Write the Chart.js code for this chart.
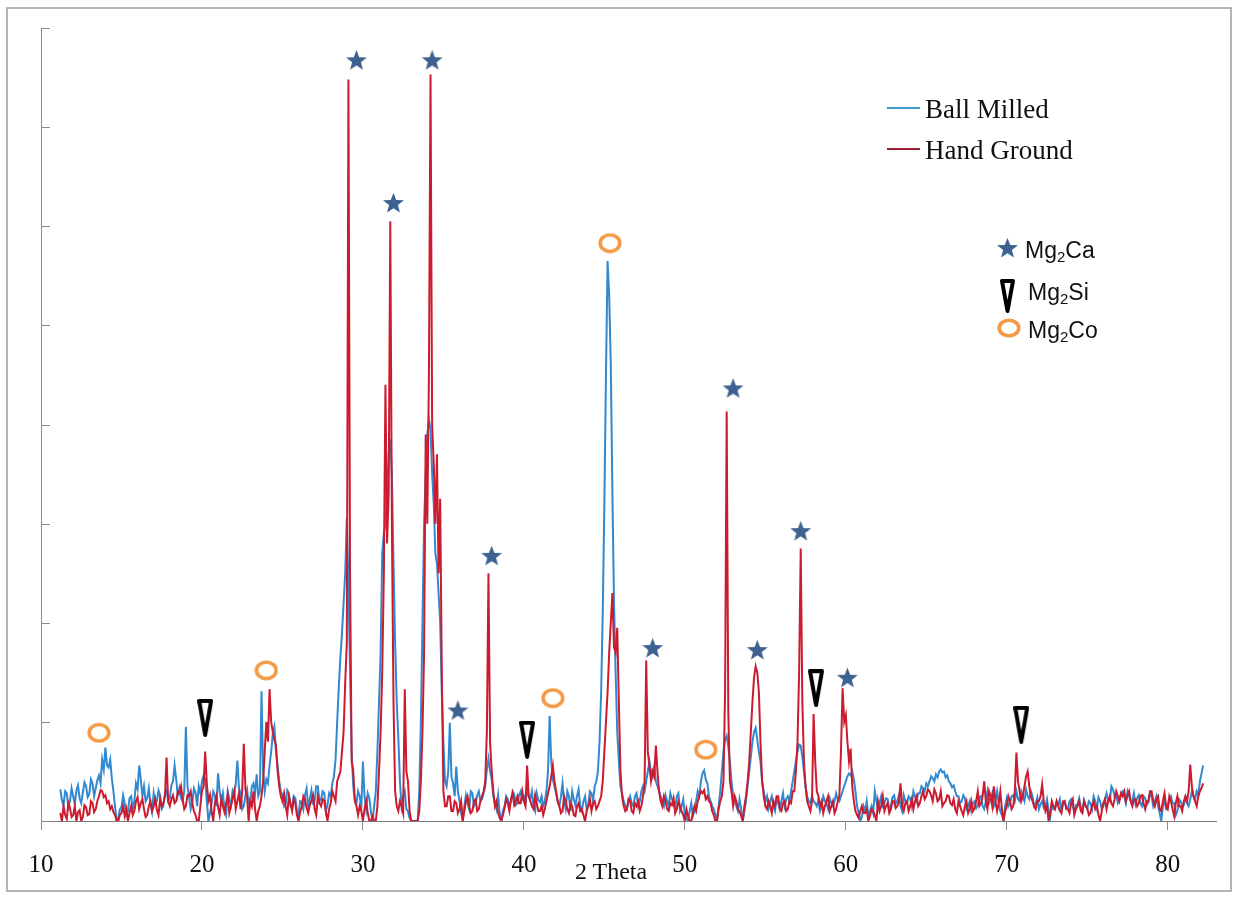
<!DOCTYPE html>
<html>
<head>
<meta charset="utf-8">
<title>XRD – Ball Milled vs Hand Ground</title>
<script src="https://cdn.jsdelivr.net/npm/chart.js@4.4.1/dist/chart.umd.min.js"></script>
<style>
  html, body { margin: 0; padding: 0; background: #fff; }
  #wrap { position: relative; width: 1238px; height: 897px; overflow: hidden; }
  #xrd { position: absolute; left: 0; top: 0; }
  #frame { position: absolute; left: 6px; top: 7px; width: 1222px; height: 881px;
           border: 2px solid #b5b5b5; pointer-events: none; }
  .serif { position: absolute; font-family: "Liberation Serif", "Times New Roman", serif;
           color: #111; line-height: 1; white-space: nowrap; }
  .sans  { position: absolute; font-family: "Liberation Sans", Arial, sans-serif;
           color: #111; line-height: 1; white-space: nowrap; font-size: 23px; }
  .sans sub { font-size: 15px; vertical-align: -4px; line-height: 0; }
  .swatch { position: absolute; width: 33px; height: 2px; }
  .sym { position: absolute; }
</style>
</head>
<body>
<div id="wrap">
  <canvas id="xrd" width="1238" height="897"></canvas>
  <div id="frame"></div>

  <div class="swatch" style="left:887px; top:107px; background:#3a9bc8;"></div>
  <div class="serif" style="left:925px; top:96px; font-size:27px;">Ball Milled</div>
  <div class="swatch" style="left:887px; top:148px; background:#a01c30;"></div>
  <div class="serif" style="left:925px; top:137px; font-size:27px;">Hand Ground</div>

  <div class="sym" id="symCa" style="left:996px; top:236px;"></div>
  <div class="sans" style="left:1025px; top:239px;">Mg<sub>2</sub>Ca</div>
  <div class="sym" id="symSi" style="left:1000px; top:279px;"></div>
  <div class="sans" style="left:1028px; top:281px;">Mg<sub>2</sub>Si</div>
  <div class="sym" id="symCo" style="left:997px; top:318px;"></div>
  <div class="sans" style="left:1028px; top:319px;">Mg<sub>2</sub>Co</div>

  <div class="serif" style="left:611px; top:859px; font-size:24px; transform:translateX(-50%);">2 Theta</div>
</div>

<script>
// scan grid: 2-theta from 11.2 in 0.1 degree steps, one row per degree
const startAngle = 11.2;
const stepAngle = 0.1;

const ballMilled = [
  320, 210, 160, 300, 280, 140, 200, 330, 250, 170,
  310, 360, 230, 180, 290, 390, 350, 240, 270, 420,
  380, 250, 330, 410, 460, 380, 620, 520, 740, 560,
  540, 620, 430, 300, 150, 0, 20, 120, 140, 260,
  180, 60, 100, 230, 250, 120, 200, 380, 320, 560,
  420, 250, 350, 200, 230, 330, 170, 90, 280, 180,
  200, 310, 260, 120, 150, 280, 310, 200, 230, 360,
  400, 560, 420, 260, 330, 230, 200, 300, 950, 350,
  240, 120, 180, 330, 290, 150, 350, 280, 400, 460,
  420, 200, 0, 80, 180, 300, 260, 150, 480, 300,
  200, 280, 120, 60, 300, 220, 160, 300, 250, 380,
  610, 330, 280, 120, 150, 260, 320, 170, 190, 350,
  380, 280, 470, 250, 300, 1310, 500, 300, 420, 380,
  560, 700, 880, 950, 700, 560, 400, 300, 260, 150,
  180, 310, 280, 150, 120, 250, 230, 100, 60, 200,
  190, 120, 260, 330, 140, 220, 310, 180, 200, 350,
  350, 200, 220, 300, 280, 100, 160, 280, 250, 380,
  450, 620, 1000, 1350, 1650, 1900, 2200, 2500, 3050, 2400,
  1500, 700, 350, 200, 180, 300, 250, 120, 600, 250,
  120, 280, 230, 90, 0, 150, 300, 700, 1200, 1700,
  2700, 2900, 3000, 3300, 3700, 3850, 3500, 2600, 1800, 1200,
  840, 400, 150, 250, 300, 120, 100, 30, 0, 0,
  0, 0, 0, 300, 1000, 2000, 3000, 3500, 3900, 4050,
  3950, 3500, 3200, 2700, 2600, 2300, 2000, 1300, 800, 400,
  350, 500, 990, 450, 380, 250, 550, 300, 200, 80,
  0, 150, 260, 180, 120, 300, 280, 150, 180, 260,
  300, 200, 220, 280, 350, 520, 630, 500, 420, 250,
  180, 120, 260, 80, 0, 100, 150, 250, 220, 150,
  200, 300, 270, 160, 180, 260, 300, 220, 250, 180,
  330, 250, 220, 300, 150, 100, 280, 210, 190, 250,
  150, 200, 300, 500, 1060, 600, 420, 350, 280, 200,
  150, 240, 380, 200, 120, 300, 250, 100, 300, 220,
  160, 250, 320, 150, 100, 200, 250, 120, 150, 300,
  280, 200, 350, 400, 500, 800, 1300, 2100, 3200, 4500,
  5650, 5300, 4600, 3300, 2200, 1500, 900, 600, 350, 280,
  200, 150, 120, 200, 250, 180, 150, 250, 280, 150,
  200, 300, 350, 300, 400, 500, 600, 500, 450, 550,
  400, 350, 300, 250, 200, 150, 260, 200, 150, 280,
  220, 180, 120, 250, 280, 100, 150, 220, 60, 30,
  0, 100, 180, 50, 100, 200, 300, 250, 400, 480,
  510, 420, 380, 250, 200, 150, 120, 60, 20, 150,
  300, 500, 700, 820, 860, 750, 600, 400, 250, 200,
  150, 100, 220, 120, 0, 100, 200, 350, 500, 650,
  800, 900, 940, 820, 700, 600, 400, 300, 200, 250,
  130, 200, 250, 150, 100, 220, 180, 120, 200, 280,
  150, 220, 250, 200, 300, 400, 500, 600, 700, 770,
  760, 650, 500, 350, 250, 200, 180, 250, 200, 180,
  150, 220, 100, 150, 250, 200, 180, 120, 230, 180,
  150, 200, 280, 220, 200, 250, 300, 350, 400, 450,
  480, 460, 500, 420, 300, 150, 80, 0, 40, 150,
  100, 200, 50, 100, 150, 80, 300, 200, 120, 180,
  250, 150, 180, 230, 220, 120, 150, 240, 260, 180,
  200, 260, 150, 100, 260, 200, 180, 250, 230, 150,
  300, 250, 200, 280, 280, 350, 330, 300, 380, 350,
  400, 450, 430, 400, 470, 440, 500, 520, 490, 500,
  440, 460, 400, 380, 340, 360, 300, 250, 250, 180,
  200, 260, 230, 120, 150, 200, 100, 180, 200, 130,
  160, 240, 250, 150, 120, 200, 300, 180, 220, 280,
  150, 200, 300, 180, 100, 60, 0, 150, 230, 150,
  180, 250, 260, 200, 300, 220, 200, 300, 250, 200,
  320, 250, 220, 300, 250, 150, 180, 240, 120, 170,
  200, 130, 150, 220, 100, 40, 180, 120, 130, 200,
  160, 220, 100, 180, 200, 120, 130, 200, 220, 150,
  90, 160, 170, 230, 140, 100, 210, 160, 120, 200,
  180, 120, 250, 200, 130, 240, 200, 120, 150, 220,
  280, 200, 200, 350, 320, 250, 260, 180, 220, 280,
  300, 250, 180, 300, 250, 200, 200, 280, 170, 230,
  260, 180, 150, 250, 230, 160, 190, 280, 250, 150,
  200, 250, 150, 80, 0, 150, 220, 120, 130, 230,
  250, 180, 180, 60, 100, 220, 200, 150, 160, 240,
  180, 150, 220, 300, 250, 220, 300, 260, 400, 480,
  560
];

const handGround = [
  80, 0, 150, 60, 20, 180, 130, 40, 60, 150,
  0, 90, 110, 0, 40, 160, 140, 60, 70, 200,
  180, 90, 120, 200, 250, 310, 300, 240, 260, 180,
  200, 120, 150, 90, 60, 0, 0, 60, 80, 150,
  50, 120, 0, 80, 150, 60, 100, 200, 240, 120,
  180, 220, 120, 40, 60, 150, 200, 100, 150, 220,
  110, 60, 220, 150, 180, 250, 640, 200, 150, 220,
  260, 180, 200, 300, 280, 350, 220, 120, 150, 260,
  250, 300, 180, 100, 60, 0, 0, 150, 300, 350,
  700, 380, 200, 260, 100, 0, 180, 250, 140, 60,
  220, 150, 90, 180, 260, 80, 150, 220, 300, 120,
  200, 280, 120, 300, 780, 320, 250, 0, 200, 150,
  300, 120, 0, 100, 150, 250, 400, 700, 1000, 800,
  1330, 1000, 900, 820, 760, 500, 350, 250, 200, 280,
  150, 60, 250, 180, 100, 220, 180, 60, 0, 90,
  140, 250, 220, 130, 80, 160, 200, 260, 120, 60,
  250, 180, 150, 220, 200, 90, 0, 120, 180, 300,
  250, 200, 400, 450, 500, 700, 900, 1400, 1800, 7480,
  2500, 600, 500, 200, 150, 60, 150, 100, 0, 120,
  200, 80, 0, 0, 50, 0, 0, 150, 500, 900,
  1500, 2500, 4400, 2800, 3300, 6050, 3000, 1200, 300, 150,
  100, 200, 150, 80, 1330, 500, 400, 100, 0, 0,
  0, 0, 0, 100, 400, 900, 1700, 3900, 3000, 4500,
  7530, 4000, 3600, 3000, 3700, 2500, 3250, 1500, 300, 150,
  150, 250, 250, 100, 100, 200, 180, 80, 120, 200,
  0, 100, 200, 250, 150, 80, 100, 200, 220, 100,
  120, 200, 250, 300, 400, 900, 2500, 800, 500, 300,
  150, 200, 80, 30, 0, 60, 130, 220, 180, 100,
  220, 280, 160, 200, 250, 180, 180, 300, 200, 150,
  560, 250, 200, 150, 120, 260, 180, 100, 100, 150,
  60, 120, 200, 280, 350, 450, 560, 400, 300, 200,
  150, 80, 100, 250, 200, 120, 80, 180, 150, 60,
  50, 150, 180, 100, 120, 60, 0, 100, 150, 220,
  100, 180, 200, 120, 150, 200, 250, 400, 700, 1000,
  1300, 1700, 2000, 2300, 1750, 1700, 1950, 1200, 500, 250,
  150, 100, 120, 220, 200, 100, 80, 180, 150, 200,
  100, 150, 250, 400, 1620, 700, 550, 400, 500, 450,
  760, 500, 300, 200, 150, 250, 200, 120, 100, 180,
  160, 230, 80, 120, 200, 150, 100, 60, 0, 120,
  50, 0, 0, 80, 150, 100, 200, 260, 300, 280,
  310, 220, 250, 200, 180, 100, 60, 0, 0, 120,
  200, 250, 400, 1300, 4130, 1100, 400, 300, 150, 250,
  200, 120, 100, 50, 0, 150, 250, 400, 600, 900,
  1200, 1450, 1560, 1500, 1300, 800, 400, 250, 150, 120,
  200, 150, 80, 200, 150, 250, 250, 120, 100, 180,
  200, 100, 120, 200, 180, 300, 300, 500, 800, 1500,
  2750, 1200, 600, 350, 200, 150, 100, 200, 1080, 600,
  300, 250, 150, 200, 80, 150, 200, 250, 100, 150,
  200, 80, 120, 200, 250, 700, 1340, 1000, 1070, 800,
  600, 730, 350, 200, 100, 60, 30, 100, 150, 80,
  80, 120, 0, 50, 120, 100, 60, 0, 200, 100,
  150, 250, 100, 150, 180, 80, 120, 200, 200, 130,
  150, 200, 380, 150, 100, 180, 200, 100, 150, 220,
  120, 200, 250, 150, 180, 250, 300, 220, 250, 320,
  300, 260, 200, 320, 280, 200, 220, 300, 150, 180,
  200, 260, 250, 180, 160, 220, 120, 80, 200, 150,
  100, 60, 150, 200, 80, 120, 200, 100, 130, 200,
  300, 150, 180, 250, 400, 200, 120, 300, 250, 150,
  350, 200, 100, 180, 300, 120, 0, 100, 150, 250,
  200, 120, 150, 300, 690, 400, 300, 200, 250, 350,
  450, 500, 350, 250, 200, 150, 120, 200, 200, 250,
  370, 200, 100, 150, 0, 80, 200, 150, 120, 200,
  150, 100, 80, 200, 200, 130, 120, 80, 180, 220,
  60, 120, 150, 200, 100, 80, 200, 150, 130, 60,
  80, 150, 200, 120, 150, 60, 0, 100, 180, 220,
  120, 200, 250, 180, 150, 220, 300, 250, 200, 280,
  250, 300, 200, 260, 300, 200, 150, 220, 220, 150,
  180, 250, 260, 180, 120, 200, 200, 300, 300, 200,
  150, 220, 250, 120, 100, 200, 280, 150, 120, 250,
  200, 120, 50, 180, 250, 150, 150, 100, 200, 250,
  200, 300, 570, 350, 250, 200, 150, 250, 300, 330,
  380
];

const xTicks = [10, 20, 30, 40, 50, 60, 70, 80];

// phase marks: angle and height where each symbol sits
const mg2CaAngle = [29.6, 31.9, 34.3, 35.9, 38.0, 48.0, 53.0, 54.5, 57.2, 60.1];
const mg2CaLevel = [7680, 6240, 7680, 1120, 2680, 1750, 4370, 1730, 2930, 1450];
const mg2SiAngle = [20.2, 40.2, 58.15, 70.9];
const mg2SiLevel = [1040, 820, 1340, 970];
const mg2CoAngle = [13.6, 24.0, 41.8, 45.35, 51.3];
const mg2CoLevel = [890, 1520, 1240, 5830, 720];

const angleOf = i => +(startAngle + i * stepAngle).toFixed(1);
const toPoints = arr => arr.map((v, i) => ({ x: angleOf(i), y: v }));
const marks = (xs, ys) => xs.map((x, i) => ({ x: x, y: ys[i] }));

function starMark(size, color) {
  const c = document.createElement('canvas');
  c.width = size; c.height = size;
  const g = c.getContext('2d');
  const cx = size / 2, cy = size / 2 + size * 0.05, R = size / 2 - 0.5, r = R * 0.42;
  g.beginPath();
  for (let k = 0; k < 10; k++) {
    const rad = k % 2 ? r : R;
    const a = -Math.PI / 2 + k * Math.PI / 5;
    g.lineTo(cx + rad * Math.cos(a), cy + rad * Math.sin(a));
  }
  g.closePath();
  g.fillStyle = color;
  g.fill();
  return c;
}

function triangleMark(w, h) {
  const c = document.createElement('canvas');
  c.width = w; c.height = h;
  const g = c.getContext('2d');
  const lw = 4;
  g.beginPath();
  g.moveTo(lw / 2, lw / 2);
  g.lineTo(w - lw / 2, lw / 2);
  g.lineTo(w / 2, h - lw / 2);
  g.closePath();
  g.fillStyle = '#fff';
  g.fill();
  g.lineJoin = 'round';
  g.lineWidth = lw;
  g.strokeStyle = '#000';
  g.stroke();
  return c;
}

function ringMark(w, h, color) {
  const c = document.createElement('canvas');
  c.width = w; c.height = h;
  const g = c.getContext('2d');
  g.beginPath();
  g.ellipse(w / 2, h / 2, w / 2 - 2.2, h / 2 - 2.2, 0, 0, Math.PI * 2);
  g.lineWidth = 3.6;
  g.strokeStyle = color;
  g.stroke();
  return c;
}

const starColor = '#3d6190';
const ringColor = '#f29a45';

document.getElementById('symCa').appendChild(starMark(23, starColor));
document.getElementById('symSi').appendChild(triangleMark(15, 34));
document.getElementById('symCo').appendChild(ringMark(24, 20, ringColor));

// inward tick marks on the intensity axis
const innerTicks = {
  id: 'innerTicks',
  beforeDatasetsDraw(chart) {
    const y = chart.scales.y, ctx = chart.ctx, left = chart.chartArea.left;
    ctx.save();
    ctx.strokeStyle = '#8a8a8a';
    ctx.lineWidth = 1;
    y.ticks.forEach(t => {
      const py = Math.round(y.getPixelForValue(t.value)) + 0.5;
      ctx.beginPath();
      ctx.moveTo(left, py);
      ctx.lineTo(left + 9, py);
      ctx.stroke();
    });
    ctx.restore();
  }
};

new Chart(document.getElementById('xrd').getContext('2d'), {
  type: 'line',
  data: {
    datasets: [
      {
        type: 'scatter', label: 'Mg2Ca', data: marks(mg2CaAngle, mg2CaLevel),
        pointStyle: starMark(23, starColor), pointRadius: 11, order: -1, clip: false
      },
      {
        type: 'scatter', label: 'Mg2Si', data: marks(mg2SiAngle, mg2SiLevel),
        pointStyle: triangleMark(16, 38), pointRadius: 11, order: -1, clip: false
      },
      {
        type: 'scatter', label: 'Mg2Co', data: marks(mg2CoAngle, mg2CoLevel),
        pointStyle: ringMark(24, 21, ringColor), pointRadius: 11, order: -1, clip: false
      },
      {
        label: 'Hand Ground', data: toPoints(handGround),
        borderColor: '#cc1a2e', borderWidth: 2, pointRadius: 0, tension: 0, order: 0
      },
      {
        label: 'Ball Milled', data: toPoints(ballMilled),
        borderColor: '#3189d0', borderWidth: 2, pointRadius: 0, tension: 0, order: 1
      }
    ]
  },
  options: {
    responsive: false,
    animation: false,
    devicePixelRatio: 1,
    layout: { padding: { left: 0, top: 28, right: 22, bottom: 0 } },
    plugins: {
      legend: { display: false },
      tooltip: { enabled: false }
    },
    scales: {
      x: {
        type: 'linear',
        min: 10,
        max: 83,
        afterBuildTicks: s => { s.ticks = xTicks.map(v => ({ value: v })); },
        afterFit: s => { s.height = 76; },
        grid: { drawOnChartArea: false, tickLength: 9, color: '#8a8a8a' },
        border: { color: '#7a7a7a', width: 1 },
        ticks: {
          color: '#111',
          padding: 20,
          maxRotation: 0,
          font: { family: 'Liberation Serif', size: 25 }
        }
      },
      y: {
        min: 0,
        max: 8000,
        afterFit: s => { s.width = 41; },
        grid: { drawOnChartArea: false, drawTicks: false },
        border: { color: '#8a8a8a', width: 1 },
        ticks: { display: false, stepSize: 1000 }
      }
    }
  },
  plugins: [innerTicks]
});
</script>
</body>
</html>
